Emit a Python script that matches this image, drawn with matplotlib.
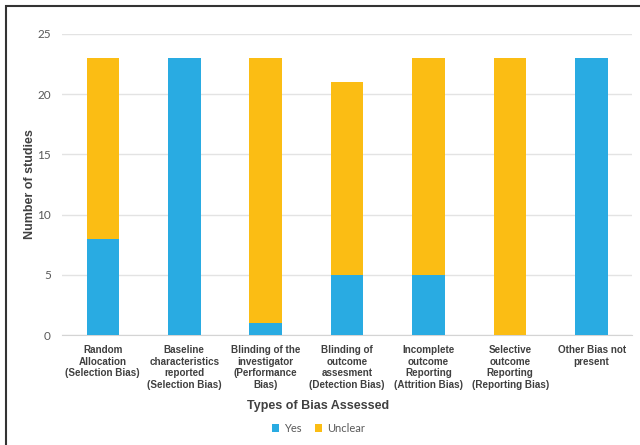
import matplotlib
matplotlib.use("Agg")
import matplotlib.pyplot as plt
from matplotlib.patches import Rectangle
import numpy as np

# data
categories = ["Random\nAllocation\n(Selection Bias)",
              "Baseline\ncharacteristics\nreported\n(Selection Bias)",
              "Blinding of the\ninvestigator\n(Performance\nBias)",
              "Blinding of\noutcome\nassesment\n(Detection Bias)",
              "Incomplete\noutcome\nReporting\n(Attrition Bias)",
              "Selective\noutcome\nReporting\n(Reporting Bias)",
              "Other Bias not\npresent"]
yes = [8, 23, 1, 5, 5, 0, 23]
unclear = [15, 0, 22, 16, 18, 23, 0]

blue = "#29abe2"
orange = "#fbbd14"

fig = plt.figure(figsize=(6.4, 4.45), dpi=100)
ax = fig.add_axes([0.097, 0.247, 0.891, 0.677])

x = np.arange(len(categories))
ax.bar(x, yes, width=0.4, color=blue, label="Yes", zorder=3)
ax.bar(x, unclear, width=0.4, bottom=yes, color=orange, label="Unclear", zorder=3)

ax.set_xlim(-0.5, len(categories) - 0.5)
ax.set_ylim(0, 25)
ax.set_yticks([0, 5, 10, 15, 20, 25])
ax.yaxis.grid(True, color="#e3e3e3", linewidth=1, zorder=0)
for s in ["top", "right", "left"]:
    ax.spines[s].set_visible(False)
ax.spines["bottom"].set_color("#d4d4d4")
ax.tick_params(axis="both", length=0)
ax.tick_params(axis="y", labelcolor="#595959", labelsize=8.5, pad=8)
for lab in ax.get_yticklabels():
    lab.set_family("Lato")

ax.set_xticks(x)
ax.set_xticklabels(categories, fontsize=7.1, fontweight="bold", color="#404040",
                   family="Liberation Sans", linespacing=1.22, va="top")
ax.tick_params(axis="x", pad=7)

ax.set_ylabel("Number of studies", fontsize=9, fontweight="bold", color="#404040",
              family="Liberation Sans")
ax.yaxis.set_label_coords(-26 / 570, 0.5)

# axis title and legend sit below the category labels
fig.text(0.497, 1 - 406 / 445, "Types of Bias Assessed", ha="center", va="center",
         fontsize=9, fontweight="bold", color="#404040", family="Liberation Sans")

leg = fig.legend(loc="center", bbox_to_anchor=(0.497, 1 - 428 / 445), ncol=2,
                 frameon=False, handlelength=0.7, handleheight=0.7,
                 handletextpad=0.4, columnspacing=1.2,
                 prop={"family": "Lato", "size": 8})
for t in leg.get_texts():
    t.set_color("#595959")

# outer frame (only left and top edges fall inside the crop)
fig.patches.append(Rectangle((6 / 640, -0.1), 1.2, 1 - 6 / 445 + 0.1,
                             transform=fig.transFigure, fill=False,
                             edgecolor="#333333", linewidth=1.5))

fig.savefig("out.png", dpi=100)
